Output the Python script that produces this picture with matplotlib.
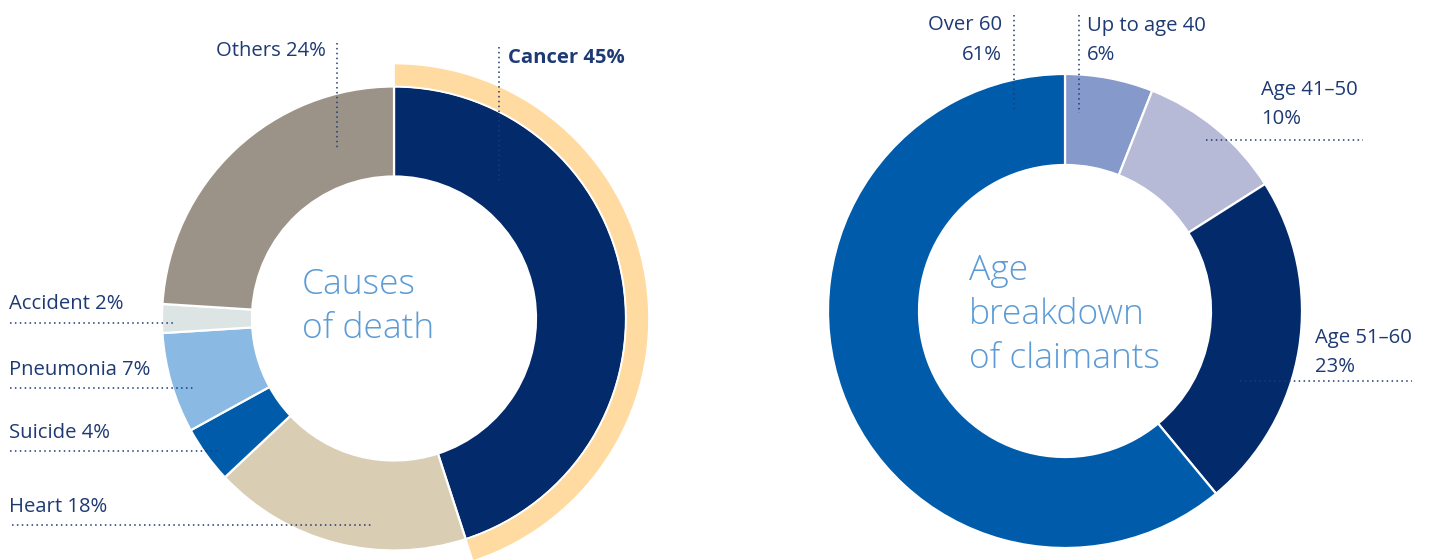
import matplotlib
matplotlib.use('Agg')
from matplotlib import pyplot as plt
from matplotlib.patches import Wedge

plt.rcParams['font.family'] = ['Open Sans', 'DejaVu Sans']

# left chart: causes of death (clockwise from 12 o'clock)
cause_names = ['Cancer', 'Heart', 'Suicide', 'Pneumonia', 'Accident', 'Others']
cause_share = [45, 18, 4, 7, 2, 24]
cause_colors = ['#032A6A', '#D9CDB3', '#005BAA', '#8AB9E4', '#DDE5E4', '#9C9388']

# right chart: age of claimants
age_names = ['Up to age 40', 'Age 41\u201350', 'Age 51\u201360', 'Over 60']
age_share = [6, 10, 23, 61]
age_colors = ['#8599CB', '#B7BAD6', '#032A6A', '#005BAA']

NAVY = '#1E3A74'
CENTER_BLUE = '#5C9BD6'
H = 560

fig = plt.figure(figsize=(14.32, 5.6), dpi=100)
ax = fig.add_axes([0, 0, 1, 1])


def donut(vals, colors, cx, cy, r_out, r_in):
    ax.pie(vals, colors=colors, startangle=90, counterclock=False,
           radius=r_out, center=(cx, H - cy),
           wedgeprops=dict(width=r_out - r_in, edgecolor='white', linewidth=1.6))


donut(cause_share, cause_colors, 394, 318.5, 232, 142)
donut(age_share, age_colors, 1065, 311, 237, 146)

# highlight ring round the cancer slice
frac = cause_share[0] / sum(cause_share)
ax.add_patch(Wedge((394, H - 318.5), 255, 90 - 360 * frac, 90, width=23,
                   facecolor='#FFDBA1', edgecolor='white', linewidth=1.2))


def dots(x0, y0, x1, y1):
    ax.plot([x0, x1], [H - y0, H - y1], color=NAVY, lw=1.1,
            linestyle=(0, (1, 2.2)))


def label(x, y, s, ha='left', bold=False):
    ax.text(x, H - y, s, ha=ha, va='center', fontsize=14.6, color=NAVY,
            fontweight='bold' if bold else 'normal', linespacing=1.6)


# left labels
lab = {n: '%s %d%%' % (n, v) for n, v in zip(cause_names, cause_share)}
label(326, 51, lab['Others'], ha='right')
dots(337, 43, 337, 150)
label(508, 58, lab['Cancer'], bold=True)
dots(499, 47, 499, 180)
label(9, 304, lab['Accident'])
dots(10, 323, 175, 323)
label(9, 370, lab['Pneumonia'])
dots(10, 388, 193, 388)
label(9, 433, lab['Suicide'])
dots(10, 451, 217, 451)
label(9, 507, lab['Heart'])
dots(12, 525, 373, 525)

# right labels
alab = {n: '%s\n%d%%' % (n, v) for n, v in zip(age_names, age_share)}
label(1002, 40, alab['Over 60'], ha='right')
dots(1014, 15, 1014, 113)
label(1087, 40, alab['Up to age 40'])
dots(1079, 15, 1079, 113)
label(1261, 105, alab['Age 41\u201350'])
dots(1206, 140, 1363, 140)
label(1315, 352, alab['Age 51\u201360'])
dots(1240, 381, 1412, 381)

# centre titles
ax.text(302, H - 307, 'Causes\nof death', ha='left', va='center', fontsize=25.5,
        color=CENTER_BLUE, fontweight='light', linespacing=1.35)
ax.text(969, H - 315, 'Age\nbreakdown\nof claimants', ha='left', va='center',
        fontsize=25.5, color=CENTER_BLUE, fontweight='light', linespacing=1.35)

ax.set_xlim(0, 1432)
ax.set_ylim(0, H)
ax.set_aspect('equal')
ax.axis('off')
fig.savefig('out.png', dpi=100, facecolor='white')
